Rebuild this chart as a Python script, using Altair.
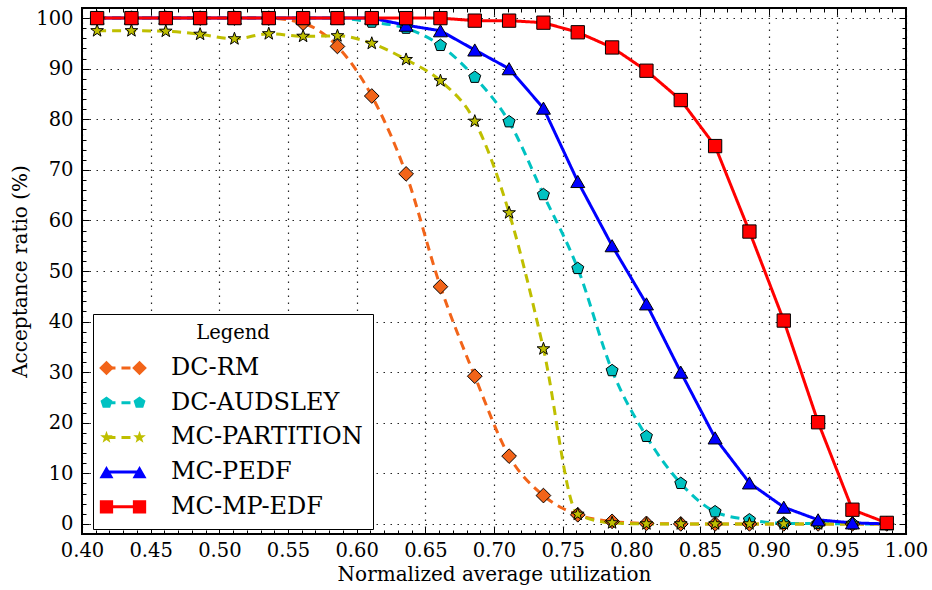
import math
import altair as alt
import pandas as pd

FONT = "DejaVu Serif"

# ---------------- data ----------------
x_util = [0.411, 0.436, 0.461, 0.486, 0.511, 0.536, 0.561, 0.586, 0.611, 0.636, 0.661, 0.686,
          0.711, 0.736, 0.761, 0.786, 0.811, 0.836, 0.861, 0.886, 0.911, 0.936, 0.961, 0.986]
series_names = ["DC-RM", "DC-AUDSLEY", "MC-PARTITION", "MC-PEDF", "MC-MP-EDF"]
dc_rm = [100, 100, 100, 100, 100, 100, 99.0, 94.4, 84.6, 69.2, 46.9, 29.2,
         13.4, 5.6, 1.8, 0.5, 0.1, 0, 0, 0, 0, 0, 0, 0]
dc_audsley = [100, 100, 100, 100, 100, 100, 100, 100, 99.2, 98.0, 94.6, 88.3,
              79.5, 65.1, 50.5, 30.3, 17.3, 8.0, 2.4, 0.8, 0.1, 0.1, 0, 0]
mc_partition = [97.5, 97.5, 97.4, 96.8, 95.9, 96.9, 96.4, 96.5, 95.0, 91.8, 87.6, 79.6,
                61.5, 34.6, 1.9, 0.2, 0, 0, 0, 0, 0, 0, 0, 0]
mc_pedf = [100, 100, 100, 100, 100, 100, 100, 100, 100, 98.6, 97.5, 93.7,
           90.0, 82.2, 67.7, 55.0, 43.5, 30.0, 17.0, 8.1, 3.3, 0.8, 0.2, 0]
mc_mp_edf = [100, 100, 100, 100, 100, 100, 100, 100, 100, 100, 100, 99.5,
             99.5, 99.1, 97.2, 94.2, 89.6, 83.8, 74.7, 57.8, 40.2, 20.1, 2.8, 0.2]
series_values = [dc_rm, dc_audsley, mc_partition, mc_pedf, mc_mp_edf]

x_major_ticks = [0.40, 0.45, 0.50, 0.55, 0.60, 0.65, 0.70, 0.75, 0.80, 0.85, 0.90, 0.95, 1.00]
x_minor_ticks = [round(0.40 + 0.01 * i, 2) for i in range(61) if i % 5 != 0]
y_major_ticks = [0, 10, 20, 30, 40, 50, 60, 70, 80, 90, 100]
y_minor_ticks = [v for v in range(0, 101, 2) if v % 10 != 0]

# ---------------- styles ----------------
colors = ["#F26419", "#00C2C2", "#BFBF00", "#0000FF", "#FF0000"]
dashes = [[9, 6], [9, 6], [9, 6], [1, 0], [1, 0]]


def poly(pts, cx=0.0, s=1.0):
    return "M" + "L".join(f"{cx + s * x:.3f},{s * y:.3f}" for x, y in pts) + "Z"


diamond = [(0, -1), (1, 0), (0, 1), (-1, 0)]
pentagon = [(math.cos(math.radians(-90 + 72 * k)), math.sin(math.radians(-90 + 72 * k))) for k in range(5)]
star = []
for k in range(10):
    r = 1.0 if k % 2 == 0 else 0.40
    a = math.radians(-90 + 36 * k)
    star.append((r * math.cos(a), r * math.sin(a)))
triangle = [(0, -0.866), (1, 0.866), (-1, 0.866)]
square = [(-1, -1), (1, -1), (1, 1), (-1, 1)]

shape_defs = [(diamond, 1.05), (pentagon, 0.9), (star, 0.95), (triangle, 1.0), (square, 0.95)]
marker_paths = [poly(p, 0, s) for p, s in shape_defs]
C = 2.36
legend_paths = [poly(p, -C, s) + poly(p, C, s) for p, s in shape_defs]
line_path = f"M{-C},0L{C},0"

rows = []
for name, ys in zip(series_names, series_values):
    for xv, yv in zip(x_util, ys):
        rows.append({"x": xv, "y": yv, "series": name})
df = pd.DataFrame(rows)
df_dashed = df[df["series"].isin(series_names[:3])]
df_solid = df[df["series"].isin(series_names[3:])]

names_b = ["b:" + n for n in series_names]
df_b = pd.DataFrame({"sB": names_b, "x": [0.5] * 5, "y": [-50] * 5})

x_scale = alt.Scale(domain=[0.40, 1.00], nice=False, zero=False)
y_scale = alt.Scale(domain=[-2, 102], nice=False, zero=False)


def enc_x(axis):
    return alt.X("x:Q", scale=x_scale, axis=axis)


def enc_y(axis):
    return alt.Y("y:Q", scale=y_scale, axis=axis)


grid_style = dict(grid=True, gridColor="black", gridDash=[1.5, 5.5], gridWidth=1.2, gridOpacity=0.85)
x_axis_main = alt.Axis(orient="bottom", values=x_major_ticks, format=".2f", labelFont=FONT,
                       labelFontSize=19.5, labelColor="black", labelPadding=7, labelFlush=False,
                       labelOverlap=False, ticks=False, domain=False,
                       title="Normalized average utilization", titleFont=FONT, titleFontSize=20,
                       titleFontWeight="normal", titleColor="black", titlePadding=5, **grid_style)
y_axis_main = alt.Axis(orient="left", values=y_major_ticks, format="d", labelFont=FONT,
                       labelFontSize=19.5, labelColor="black", labelPadding=9, labelFlush=False,
                       labelOverlap=False, ticks=False, domain=False,
                       title="Acceptance ratio (%)", titleFont=FONT, titleFontSize=20,
                       titleFontWeight="normal", titleColor="black", titlePadding=5, **grid_style)


def tick_axis(orient, values, size):
    return alt.Axis(orient=orient, values=values, labels=False, domain=False, grid=False,
                    ticks=True, tickSize=size, offset=-size, tickColor="black", tickWidth=1,
                    title=None)


MAJ, MIN = 7, 4

legend_common = dict(orient="none", legendX=11, legendY=306, direction="vertical",
                     symbolSize=196, symbolOffset=8, labelOffset=36, labelLimit=400,
                     labelFont=FONT, labelFontSize=24, labelColor="black",
                     title="Legend", titleFont=FONT, titleFontSize=19.5, titleFontWeight="normal",
                     titleColor="black", titleAnchor="middle", titlePadding=12.5,
                     padding=10, rowPadding=10.7)
legA = alt.Legend(symbolType=line_path, symbolStrokeWidth=3, fillColor="white",
                  strokeColor="black", **legend_common)
legB = alt.Legend(symbolStrokeColor="black", symbolStrokeWidth=1, labelOpacity=0,
                  titleOpacity=0, labelExpr="slice(datum.label, 2)", **legend_common)

color_enc = alt.Color("series:N", scale=alt.Scale(domain=series_names, range=colors), legend=legA)
dash_enc = alt.StrokeDash("series:N", scale=alt.Scale(domain=series_names, range=dashes), legend=legA)

dashed = alt.Chart(df_dashed).mark_line(strokeWidth=3, interpolate="monotone").encode(
    x=enc_x(x_axis_main), y=enc_y(y_axis_main), color=color_enc, strokeDash=dash_enc)

solid = alt.Chart(df_solid).mark_line(strokeWidth=3).encode(
    x=enc_x(None), y=enc_y(None), color=color_enc, strokeDash=dash_enc)

points = alt.Chart(df).mark_point(filled=True, opacity=1, stroke="black", strokeWidth=1, size=196).encode(
    x=enc_x(tick_axis("bottom", x_major_ticks, MAJ)),
    y=enc_y(tick_axis("left", y_major_ticks, MAJ)),
    shape=alt.Shape("series:N", scale=alt.Scale(domain=series_names, range=marker_paths), legend=None),
    fill=alt.Fill("series:N", scale=alt.Scale(domain=series_names, range=colors), legend=None),
)

legend_layer = alt.Chart(df_b).mark_point(filled=True, opacity=1, stroke="black", strokeWidth=1,
                                          clip=True).encode(
    x=enc_x(tick_axis("bottom", x_minor_ticks, MIN)),
    y=enc_y(tick_axis("left", y_minor_ticks, MIN)),
    shape=alt.Shape("sB:N", scale=alt.Scale(domain=names_b, range=legend_paths), legend=legB),
    fill=alt.Fill("sB:N", scale=alt.Scale(domain=names_b, range=colors), legend=legB),
)

ticks_top = alt.Chart(df_b).mark_point(opacity=0, clip=True).encode(
    x=enc_x(tick_axis("top", x_major_ticks, MAJ)),
    y=enc_y(tick_axis("right", y_major_ticks, MAJ)))
ticks_top_minor = alt.Chart(df_b).mark_point(opacity=0, clip=True).encode(
    x=enc_x(tick_axis("top", x_minor_ticks, MIN)),
    y=enc_y(tick_axis("right", y_minor_ticks, MIN)))

chart = alt.layer(dashed, solid, points, legend_layer, ticks_top, ticks_top_minor).resolve_scale(
    shape="independent", fill="independent"
).resolve_axis(
    x="independent", y="independent"
).properties(
    width=824, height=526,
    autosize=alt.AutoSizeParams(type="none"),
    padding={"left": 82, "top": 8, "right": 26, "bottom": 56},
    background="white",
).configure_view(stroke="black", strokeWidth=2)

chart.save("out.html", embed_options={"renderer": "svg", "actions": False})
